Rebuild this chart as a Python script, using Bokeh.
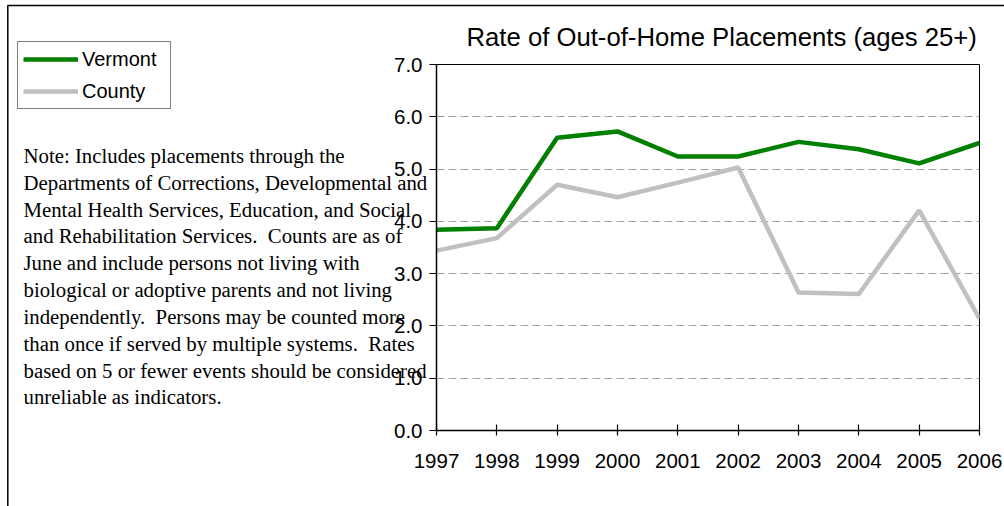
from bokeh.plotting import figure
from bokeh.models import (Range1d, FixedTicker, Legend, LegendItem, Label, LabelSet,
                          ColumnDataSource, BoxAnnotation, GridBox, Column)
from bokeh.embed import file_html
from bokeh.resources import INLINE

# ---- data ----
years = [1997, 1998, 1999, 2000, 2001, 2002, 2003, 2004, 2005, 2006]
vermont = [3.84, 3.87, 5.60, 5.72, 5.24, 5.24, 5.52, 5.38, 5.11, 5.50]
county = [3.44, 3.68, 4.70, 4.46, 4.74, 5.03, 2.64, 2.61, 4.21, 2.14]
y_ticks = [0, 1, 2, 3, 4, 5, 6, 7]
y_tick_labels = ["0.0", "1.0", "2.0", "3.0", "4.0", "5.0", "6.0", "7.0"]
series_names = ["Vermont", "County"]
series_colors = ["#008000", "#c0c0c0"]
title_text = "Rate of Out-of-Home Placements (ages 25+)"
note_lines = [
    "Note: Includes placements through the",
    "Departments of Corrections, Developmental and",
    "Mental Health Services, Education, and Social",
    "and Rehabilitation Services.\u00a0 Counts are as of",
    "June and include persons not living with",
    "biological or adoptive parents and not living",
    "independently.\u00a0 Persons may be counted more",
    "than once if served by multiple systems.\u00a0 Rates",
    "based on 5 or fewer events should be considered",
    "unreliable as indicators.",
]

W, H = 1004, 506
FL, FT, FR, FB = 436, 64, 979, 430  # chart frame box in pixels

# ---------- chart figure (bottom layer) ----------
p = figure(width=W, height=H, output_backend="svg", toolbar_location=None,
           x_range=Range1d(1997, 2006), y_range=Range1d(0, 7),
           min_border_left=FL, min_border_right=W - FR,
           min_border_top=FT, min_border_bottom=H - FB)
p.title = None
p.background_fill_color = "white"
p.border_fill_color = "white"
p.outline_line_color = "black"
p.outline_line_width = 1

ax = p.xaxis[0]
ax.ticker = FixedTicker(ticks=years)
ax.axis_line_color = "black"
ax.axis_line_width = 1.5
ax.major_tick_line_color = "black"
ax.major_tick_line_width = 1.2
ax.major_tick_in = 6
ax.major_tick_out = 5
ax.minor_tick_line_color = None
ax.major_label_text_font = "Liberation Sans"
ax.major_label_text_font_size = "20.5px"
ax.major_label_text_color = "black"
ax.major_label_standoff = 18

ay = p.yaxis[0]
ay.ticker = FixedTicker(ticks=y_ticks)
ay.major_label_overrides = {t: l for t, l in zip(y_ticks, y_tick_labels)}
ay.axis_line_color = "black"
ay.axis_line_width = 1.5
ay.major_tick_line_color = "black"
ay.major_tick_line_width = 1.2
ay.major_tick_in = 0
ay.major_tick_out = 7
ay.minor_tick_line_color = None
ay.major_label_text_font = "Liberation Sans"
ay.major_label_text_font_size = "20.5px"
ay.major_label_text_color = "black"
ay.major_label_standoff = 7

p.xgrid.grid_line_color = None
p.ygrid.grid_line_color = "#a0a0a0"
p.ygrid.grid_line_dash = "8 4"
p.ygrid.grid_line_width = 1

src = ColumnDataSource(dict(year=years, vermont=vermont, county=county))
p.line("year", "vermont", source=src, line_color=series_colors[0], line_width=4.5)
p.line("year", "county", source=src, line_color=series_colors[1], line_width=4.5)

# ---------- overlay figure (page-sized frame, pixel coordinates, transparent) ----------
bg = figure(width=W, height=H, output_backend="svg", toolbar_location=None,
            x_range=Range1d(0, W), y_range=Range1d(H, 0),
            x_axis_type=None, y_axis_type=None,
            min_border=0, min_border_left=0, min_border_right=0,
            min_border_top=0, min_border_bottom=0)
bg.title = None
bg.outline_line_color = None
bg.background_fill_color = None
bg.border_fill_color = None
bg.grid.visible = False

# outer frame (only top and left edges fall inside the window)
bg.add_layout(BoxAnnotation(left=7.3, right=W + 200, top=5, bottom=H + 200,
                            fill_color=None, fill_alpha=0,
                            line_color="black", line_alpha=1, line_width=1.5))

# title
bg.add_layout(Label(x=466, y=36.7, text=title_text, text_font="Liberation Sans",
                    text_font_size="25.7px", text_color="black",
                    text_align="left", text_baseline="alphabetic"))

# note
base0, step = 162.3, 26.85
note_src = ColumnDataSource(dict(
    x=[23] * len(note_lines),
    y=[base0 + i * step for i in range(len(note_lines))],
    text=note_lines))
bg.add_layout(LabelSet(x="x", y="y", text="text", source=note_src,
                       text_font="Liberation Serif", text_font_size="20.8px",
                       text_color="black", text_align="left",
                       text_baseline="alphabetic"))

# legend swatches: same series styles (the series fall outside this overlay's view)
bg_src = ColumnDataSource(dict(year=years, vermont=vermont, county=county))
sw = [bg.line("year", "vermont", source=bg_src, line_color=series_colors[0], line_width=4.5),
      bg.line("year", "county", source=bg_src, line_color=series_colors[1], line_width=4.5)]
legend = Legend(items=[LegendItem(label=n, renderers=[r]) for n, r in zip(series_names, sw)],
                location=(17, H - 43 - 66), orientation="vertical",
                border_line_color="black", border_line_width=1,
                background_fill_color="white", background_fill_alpha=1,
                padding=5, spacing=8, margin=0,
                glyph_width=55, glyph_height=24, label_height=24, label_width=83,
                label_standoff=4,
                label_text_font="Liberation Sans", label_text_font_size="20px",
                label_text_color="black")
bg.add_layout(legend, "center")

# overlay both figures in the same place, without aligning their frames
if "frame_align" in p.properties():
    p.frame_align = False
    bg.frame_align = False
    layout = GridBox(children=[(p, 0, 0), (bg, 0, 0)])
else:
    bg.margin = (-H, 0, 0, 0)
    layout = Column(children=[p, bg])

open("out.html", "w").write(file_html(layout, INLINE))
